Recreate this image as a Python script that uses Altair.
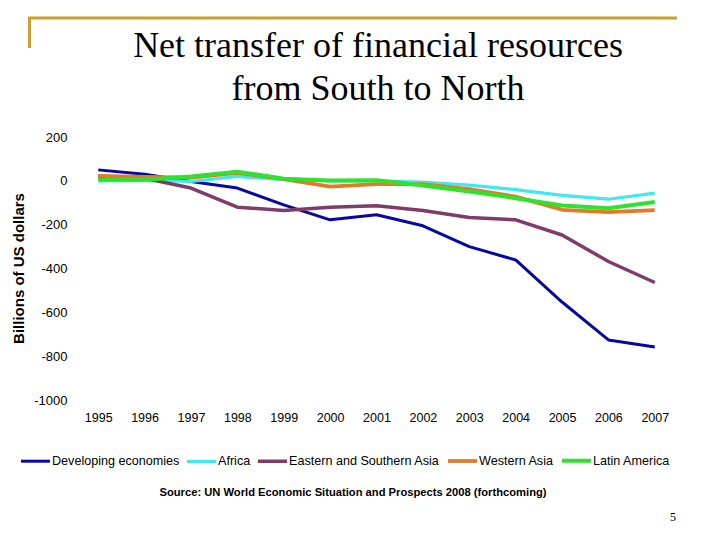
import altair as alt
import pandas as pd

years = ["1995", "1996", "1997", "1998", "1999", "2000", "2001",
         "2002", "2003", "2004", "2005", "2006", "2007"]
series_names = ["Developing economies", "Africa", "Eastern and Southern Asia",
                "Western Asia", "Latin America"]
developing = [50, 30, -3, -33, -110, -178, -155, -205, -300, -361, -553, -726, -758]
africa = [0, 2, -3, 20, 5, 0, 0, -6, -20, -40, -66, -84, -56]
es_asia = [20, 12, -33, -120, -135, -120, -114, -135, -167, -178, -247, -368, -464]
w_asia = [23, 18, 15, 36, 8, -26, -15, -15, -38, -72, -132, -143, -134]
latam = [5, 5, 20, 42, 10, 2, 3, -21, -49, -79, -113, -125, -97]
colors = ["#0707A6", "#40E8F2", "#7E3C68", "#E27A27", "#2EE22E"]
widths = [3, 4, 3, 3, 4]
y_ticks = [200, 0, -200, -400, -600, -800, -1000]

rows = []
for name, vals in zip(series_names, [developing, africa, es_asia, w_asia, latam]):
    for yr, v in zip(years, vals):
        rows.append({"year": yr, "value": v, "series": name})
df = pd.DataFrame(rows)

SANS = "Liberation Sans, Arial, sans-serif"
SERIF = "Liberation Serif, Times New Roman, serif"
one = alt.Data(values=[{"a": 1}])

lines = alt.Chart(df).mark_line(strokeJoin="round").encode(
    x=alt.X("year:O", sort=years, scale=alt.Scale(type="point", padding=0.5),
            axis=alt.Axis(title=None, labelAngle=0, labelFont=SANS, labelFontSize=12.5,
                          labelColor="black", labelPadding=11, domain=False, ticks=False,
                          grid=False)),
    y=alt.Y("value:Q", scale=alt.Scale(domain=[-1000, 200], nice=False, zero=False),
            axis=alt.Axis(values=y_ticks, title="Billions of US dollars",
                          titleFont=SANS, titleFontWeight="bold",
                          titleFontSize=15, titleColor="black",
                          titleX=-57, titleY=131, titleAngle=-90,
                          titleAlign="center", titleBaseline="middle",
                          labelExpr="'' + datum.value", labelFont=SANS,
                          labelFontSize=13, labelColor="black", labelPadding=8,
                          domain=False, ticks=False, grid=False)),
    color=alt.Color("series:N", sort=series_names,
                    scale=alt.Scale(domain=series_names, range=colors),
                    legend=alt.Legend(title=None, orient="none", legendX=-56, legendY=307,
                                      direction="horizontal", columns=5,
                                      symbolType="stroke", symbolSize=841,
                                      symbolStrokeWidth=3, labelFont=SANS,
                                      labelFontSize=12.6, labelColor="black",
                                      labelOffset=0, columnPadding=0, labelLimit=0)),
    strokeWidth=alt.StrokeWidth("series:N", sort=series_names,
                                scale=alt.Scale(domain=series_names, range=widths),
                                legend=None),
)

title1 = alt.Chart(one).mark_text(font=SERIF, fontSize=36, align="center",
                                  baseline="alphabetic", color="black").encode(
    x=alt.value(303), y=alt.value(-80), text=alt.value("Net transfer of financial resources"))
title2 = alt.Chart(one).mark_text(font=SERIF, fontSize=36, align="center",
                                  baseline="alphabetic", color="black").encode(
    x=alt.value(303), y=alt.value(-37), text=alt.value("from South to North"))
source = alt.Chart(one).mark_text(font=SANS, fontSize=11.2, fontWeight="bold",
                                  align="center", baseline="alphabetic", color="black").encode(
    x=alt.value(278), y=alt.value(359),
    text=alt.value("Source: UN World Economic Situation and Prospects 2008 (forthcoming)"))
page = alt.Chart(one).mark_text(font=SERIF, fontSize=12, align="center",
                                baseline="alphabetic", color="black").encode(
    x=alt.value(598), y=alt.value(384), text=alt.value("5"))
gold_h = alt.Chart(one).mark_rule(color="#C9A22C", strokeWidth=3).encode(
    x=alt.value(-47), x2=alt.value(602), y=alt.value(-119))
gold_v = alt.Chart(one).mark_rule(color="#C9A22C", strokeWidth=3).encode(
    x=alt.value(-45.5), y=alt.value(-120), y2=alt.value(-89))

chart = alt.layer(gold_h, gold_v, title1, title2, lines, source, page).properties(
    width=603, height=263,
    autosize=alt.AutoSizeParams(type="none"),
    padding={"left": 67, "top": 129, "right": 34, "bottom": 132},
).configure_view(stroke=None)

chart.save("out.html", embed_options={"renderer": "svg", "actions": False})
